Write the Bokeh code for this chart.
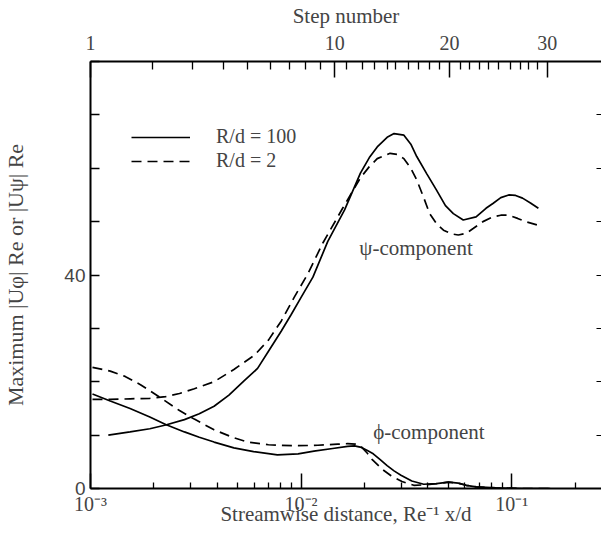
from bokeh.plotting import figure
from bokeh.models import Range1d, LogAxis, LinearAxis, FixedTicker, Legend, LegendItem, Label
from bokeh.embed import file_html
from bokeh.resources import INLINE

# ---------------- data ----------------
# psi-component, R/d = 100 (solid)
psi100_x = [1.215e-3, 1.541e-3, 1.913e-3, 2.275e-3, 2.793e-3, 3.285e-3, 3.862e-3, 4.543e-3,
            5.342e-3, 6.214e-3, 7.000e-3, 8.058e-3, 8.977e-3, 1.0e-2, 1.138e-2, 1.339e-2,
            1.609e-2, 1.913e-2, 2.109e-2, 2.299e-2, 2.562e-2, 2.763e-2, 3.078e-2, 3.320e-2,
            3.542e-2, 3.947e-2, 4.397e-2, 4.847e-2, 5.284e-2, 5.888e-2, 6.776e-2, 7.550e-2,
            8.143e-2, 8.880e-2, 9.681e-2, 0.1044, 0.1126, 0.1228, 0.1339]
psi100_y = [10.0, 10.6, 11.2, 11.9, 12.9, 14.0, 15.4, 17.5,
            20.1, 22.5, 25.7, 29.5, 32.6, 35.8, 39.6, 46.3,
            52.2, 59.1, 62.0, 64.0, 65.8, 66.5, 66.2, 64.5,
            62.2, 59.0, 55.9, 53.0, 51.5, 50.3, 50.9, 52.5,
            53.4, 54.5, 55.0, 54.9, 54.4, 53.5, 52.5]

# psi-component, R/d = 2 (dashed)
psi2_x = [1.022e-3, 1.241e-3, 1.541e-3, 1.913e-3, 2.275e-3, 2.646e-3, 3.112e-3, 3.862e-3,
          4.795e-3, 6.016e-3, 7.000e-3, 8.058e-3, 9.271e-3, 1.079e-2, 1.269e-2, 1.575e-2,
          1.913e-2, 2.109e-2, 2.299e-2, 2.646e-2, 2.854e-2, 3.078e-2, 3.320e-2, 3.542e-2,
          3.821e-2, 4.077e-2, 4.397e-2, 4.744e-2, 5.171e-2, 5.578e-2, 6.081e-2, 6.561e-2,
          7.308e-2, 8.143e-2, 8.880e-2, 9.681e-2, 0.1067, 0.1163, 0.1339]
psi2_y = [16.7, 16.7, 16.8, 16.9, 17.2, 17.8, 18.7, 20.0,
          22.3, 25.0, 27.8, 31.4, 35.8, 40.3, 46.0, 52.5,
          58.2, 60.3, 61.8, 62.8, 62.6, 61.8, 60.0, 57.8,
          54.5, 51.5, 49.6, 48.4, 47.7, 47.5, 47.8, 48.7,
          50.0, 50.9, 51.2, 51.2, 50.6, 50.0, 49.3]

# phi-component, R/d = 100 (solid)
phi100_x = [1.022e-3, 1.241e-3, 1.541e-3, 1.913e-3, 2.275e-3, 2.793e-3, 3.285e-3, 3.862e-3,
            4.795e-3, 5.951e-3, 7.717e-3, 9.68e-3, 1.151e-2, 1.413e-2, 1.662e-2, 1.792e-2,
            1.934e-2, 2.064e-2, 2.201e-2, 2.375e-2, 2.562e-2, 2.763e-2, 2.980e-2, 3.356e-2,
            3.821e-2, 4.397e-2, 5.007e-2, 5.578e-2, 6.081e-2, 6.776e-2, 8.412e-2, 0.1126, 0.1524]
phi100_y = [17.7, 16.4, 15.0, 13.4, 12.0, 10.6, 9.6, 8.7,
            7.6, 6.9, 6.3, 6.5, 7.0, 7.5, 7.9, 8.0,
            7.7, 7.1, 6.5, 5.4, 4.3, 3.3, 2.5, 1.4,
            0.8, 0.9, 1.2, 1.0, 0.6, 0.3, 0.1, 0.0, 0.0]

# phi-component, R/d = 2 (dashed)
phi2_x = [1.022e-3, 1.241e-3, 1.460e-3, 1.735e-3, 2.131e-3, 2.646e-3, 3.112e-3, 3.862e-3,
          4.795e-3, 5.578e-3, 7.000e-3, 9.271e-3, 1.202e-2, 1.492e-2, 1.662e-2, 1.812e-2,
          1.934e-2, 2.064e-2, 2.178e-2, 2.427e-2, 2.675e-2, 3.013e-2, 3.429e-2, 3.947e-2,
          4.397e-2, 5.007e-2, 5.578e-2, 6.081e-2, 6.776e-2, 8.412e-2, 0.1126, 0.1524]
phi2_y = [22.7, 22.0, 21.0, 19.4, 17.1, 14.6, 13.0, 11.0,
          9.5, 8.7, 8.2, 8.0, 8.1, 8.3, 8.4, 8.3,
          7.8, 6.6, 5.4, 3.6, 2.4, 1.3, 0.6, 0.7,
          0.9, 1.2, 1.0, 0.6, 0.3, 0.1, 0.0, 0.0]

# bottom axis ticks
x_major = [1e-3, 1e-2, 1e-1]
x_major_labels = ["10⁻³", "10⁻²", "10⁻¹"]
x_minor = [m * d for d in (1e-3, 1e-2, 1e-1) for m in (2, 3, 4, 5, 6, 7, 8, 9)]

# left axis ticks
y_labeled = [0, 40]
y_unlabeled = [10, 20, 30, 50, 60, 70, 80]

# top axis: step number vs streamwise distance
step_numbers = list(range(1, 31))
step_x = [1.0e-3, 1.976e-3, 3.045e-3, 4.26e-3, 5.58e-3, 7.15e-3, 8.79e-3, 1.044e-2, 1.242e-2,
          1.445e-2, 1.644e-2, 1.954e-2, 2.225e-2, 2.56e-2, 2.82e-2, 3.25e-2, 3.62e-2, 4.08e-2,
          4.54e-2, 5.06e-2, 5.70e-2, 6.28e-2, 7.00e-2, 7.80e-2, 8.69e-2, 9.89e-2, 0.1102,
          0.1202, 0.1325, 0.1475]
step_labeled = [1, 10, 20, 30]

# ---------------- figure ----------------
SERIF = "Liberation Serif"
SANS = "Liberation Sans"

p = figure(width=601, height=528, x_axis_type="log",
           x_range=Range1d(1e-3, 0.267), y_range=Range1d(0, 80),
           output_backend="svg", toolbar_location=None,
           min_border_left=0, min_border_right=0, min_border_top=0, min_border_bottom=0)
p.outline_line_color = None
p.xgrid.visible = False
p.ygrid.visible = False
p.background_fill_color = "white"

LW = 1.7
r_psi100 = p.line(psi100_x, psi100_y, line_color="black", line_width=LW)
r_psi2 = p.line(psi2_x, psi2_y, line_color="black", line_width=LW, line_dash="10 6")
p.line(phi100_x, phi100_y, line_color="black", line_width=LW)
p.line(phi2_x, phi2_y, line_color="black", line_width=LW, line_dash="10 6")

# bottom axis
xa = p.xaxis[0]
xa.ticker = FixedTicker(ticks=x_major, minor_ticks=x_minor)
xa.major_label_overrides = {v: s for v, s in zip(x_major, x_major_labels)}
xa.axis_label = "Streamwise distance, Re⁻¹ x/d"
xa.axis_label_text_font = SERIF
xa.axis_label_text_font_size = "21px"
xa.axis_label_text_font_style = "normal"
xa.axis_label_standoff = -16
xa.major_label_text_font = SERIF
xa.major_label_text_font_size = "20px"
xa.major_label_standoff = 4
xa.axis_line_width = 2
xa.major_tick_in = 15
xa.major_tick_out = 0
xa.minor_tick_in = 6
xa.minor_tick_out = 0
xa.major_tick_line_width = 1.5
xa.minor_tick_line_width = 1.3

# left axis
ya = p.yaxis[0]
ya.ticker = FixedTicker(ticks=y_labeled, minor_ticks=y_unlabeled)
ya.axis_label = "Maximum |Uφ| Re or |Uψ| Re"
ya.axis_label_text_font = SERIF
ya.axis_label_text_font_size = "22px"
ya.axis_label_text_font_style = "normal"
ya.axis_label_standoff = 33
ya.major_label_text_font = SANS
ya.major_label_text_font_size = "19px"
ya.major_label_standoff = 5
ya.axis_line_width = 2
ya.major_tick_in = 9
ya.major_tick_out = 0
ya.minor_tick_in = 9
ya.minor_tick_out = 0
ya.major_tick_line_width = 1.3
ya.minor_tick_line_width = 1.3

# right axis (ticks only, no labels)
ra = LinearAxis(ticker=FixedTicker(ticks=[], minor_ticks=y_labeled[1:] + y_unlabeled),
                axis_line_color=None, major_tick_in=0, major_tick_out=0,
                minor_tick_in=5, minor_tick_out=0, major_label_standoff=0,
                axis_label_standoff=0, minor_tick_line_width=1.2)
p.add_layout(ra, "right")

# top axis: step number
sx_major = [x for s, x in zip(step_numbers, step_x) if s in step_labeled]
sx_minor = [x for s, x in zip(step_numbers, step_x) if s not in step_labeled]
ta = LogAxis(ticker=FixedTicker(ticks=sx_major, minor_ticks=sx_minor))
ta.major_label_overrides = {x: str(s) for s, x in zip(step_numbers, step_x) if s in step_labeled}
ta.axis_label = "Step number"
ta.axis_label_text_font = SERIF
ta.axis_label_text_font_size = "21px"
ta.axis_label_text_font_style = "normal"
ta.axis_label_standoff = 5
ta.major_label_text_font = SERIF
ta.major_label_text_font_size = "20px"
ta.major_label_standoff = 12
ta.axis_line_width = 2
ta.major_tick_in = 16
ta.major_tick_out = 0
ta.minor_tick_in = 8
ta.minor_tick_out = 0
ta.major_tick_line_width = 1.5
ta.minor_tick_line_width = 1.3
p.add_layout(ta, "above")

# legend
legend = Legend(items=[LegendItem(label="R/d = 100", renderers=[r_psi100]),
                       LegendItem(label="R/d = 2", renderers=[r_psi2])],
                location=(41, 316), glyph_width=59, glyph_height=20, label_height=20,
                label_standoff=26, spacing=1, padding=0, margin=0,
                border_line_alpha=0, background_fill_alpha=0,
                label_text_font=SERIF, label_text_font_size="20px")
p.add_layout(legend)

# annotations
p.add_layout(Label(x=1.89e-2, y=45, text="ψ-component", text_font=SERIF,
                   text_font_size="21px", text_baseline="middle", text_align="left"))
p.add_layout(Label(x=2.2e-2, y=10.5, text="ϕ-component", text_font=SERIF,
                   text_font_size="21px", text_baseline="middle", text_align="left"))

open("out.html", "w").write(file_html(p, INLINE))
